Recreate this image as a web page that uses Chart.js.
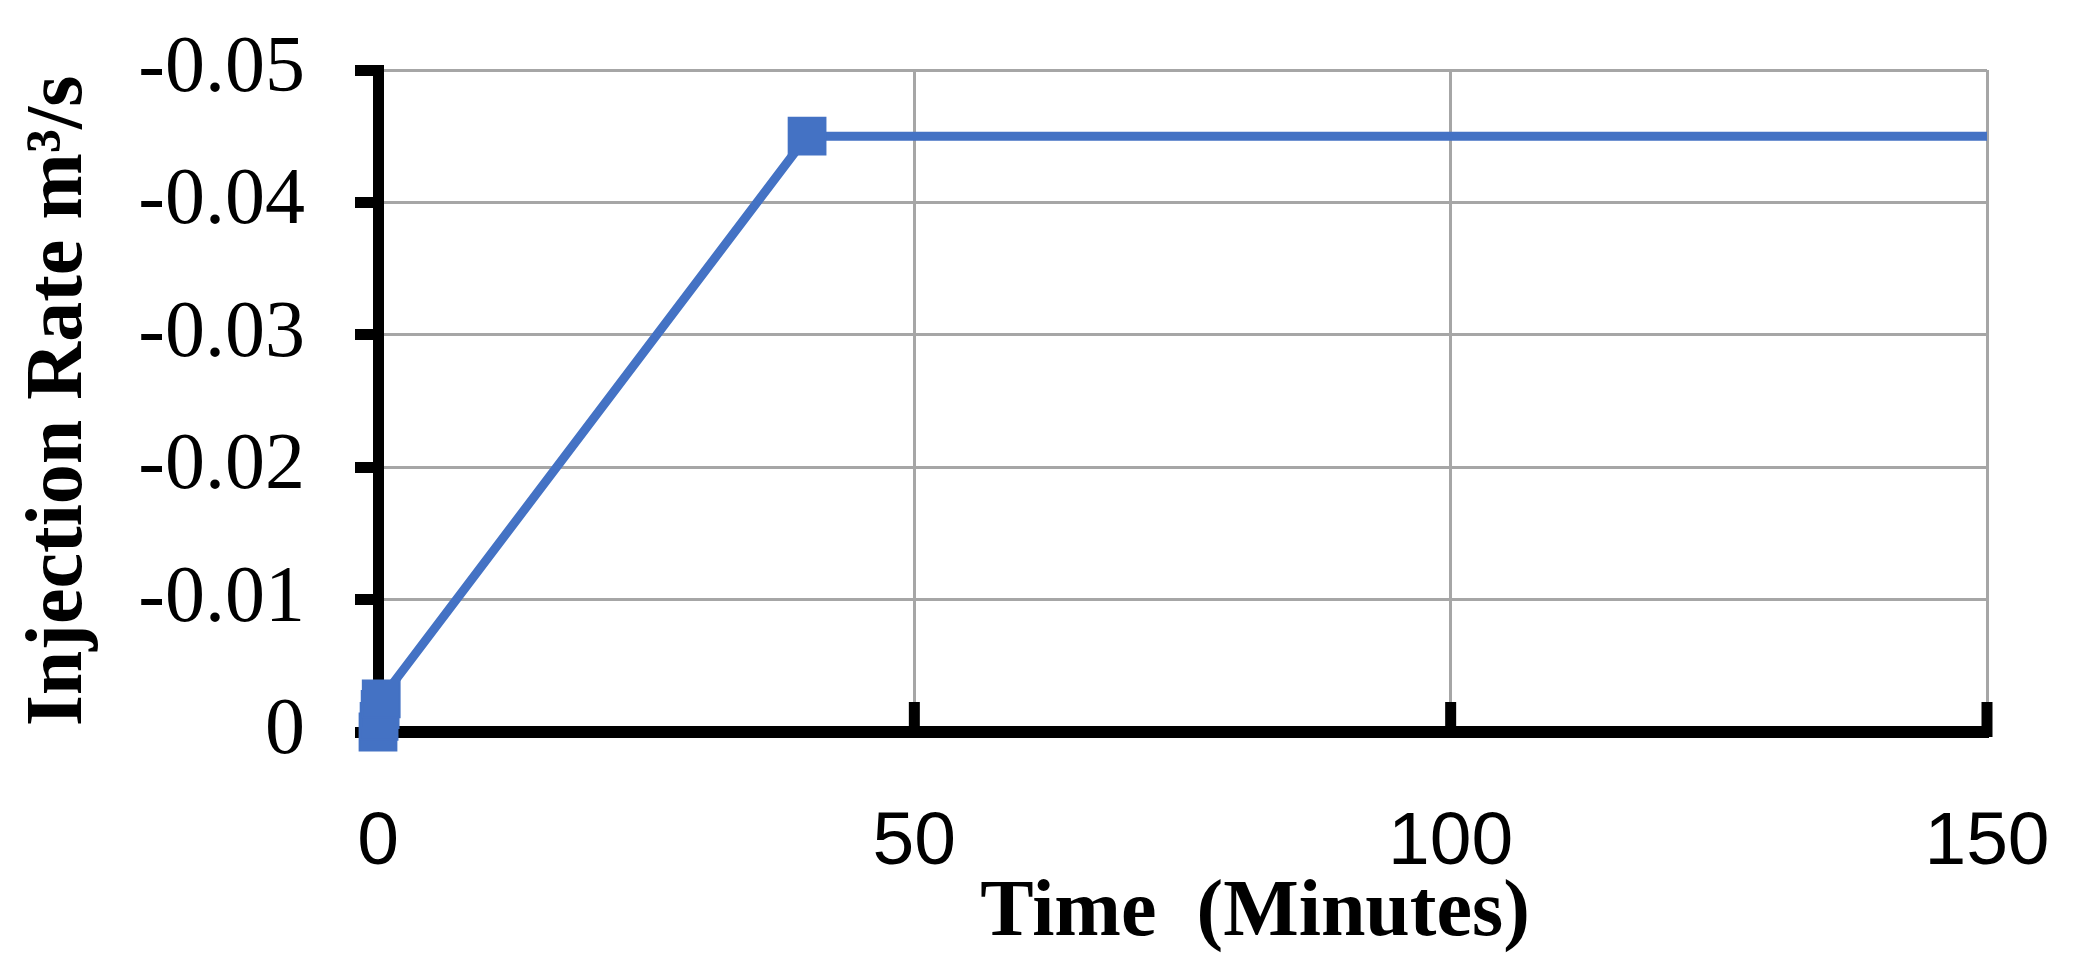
<!DOCTYPE html>
<html>
<head>
  <title>Injection Rate</title>
  <style>
      body {
          margin: 0;
          padding: 0;
          background-color: #ffffff;
      }
      canvas {
          display: block;
      }
  </style>
</head>
<body>
  <canvas id="rateChart" width="2077" height="979"></canvas>
  <script src="https://cdn.jsdelivr.net/npm/chart.js"></script>
  <script>
      // data
      const timeMinutes = [0, 0.1, 0.2, 0.3, 40, 150];
      const injectionRate = [0, -0.0008, -0.0017, -0.0025, -0.045, -0.045];
      const xTicks = [0, 50, 100, 150];
      const yTicks = [-0.05, -0.04, -0.03, -0.02, -0.01, 0];

      const blue = '#4472C4';
      const gridGray = '#a6a6a6';

      // x axis ticks point up into the plot, so draw them here
      const innerTicks = {
          id: 'innerTicks',
          beforeDatasetsDraw(chart) {
              const ctx = chart.ctx;
              const x = chart.scales.x;
              const area = chart.chartArea;
              ctx.save();
              ctx.strokeStyle = '#000';
              ctx.lineWidth = 11;
              xTicks.forEach(v => {
                  const px = x.getPixelForValue(v);
                  ctx.beginPath();
                  ctx.moveTo(px, area.bottom + 5);
                  ctx.lineTo(px, area.bottom - 30);
                  ctx.stroke();
              });
              ctx.restore();
          },
          afterDraw(chart) {
              const ctx = chart.ctx;
              const area = chart.chartArea;
              ctx.save();
              ctx.fillStyle = '#000';
              ctx.font = 'bold 80px "Liberation Serif"';
              ctx.textAlign = 'center';
              ctx.textBaseline = 'alphabetic';
              ctx.fillText('Time  (Minutes)', area.left + 877, area.bottom + 203);
              ctx.restore();
          }
      };

      const ctx = document.getElementById('rateChart').getContext('2d');
      const rateChart = new Chart(ctx, {
          type: 'line',
          data: {
              datasets: [{
                  data: timeMinutes.map((t, i) => ({ x: t, y: injectionRate[i] })),
                  borderColor: blue,
                  backgroundColor: blue,
                  borderWidth: 9,
                  pointStyle: 'rect',
                  pointRadius: timeMinutes.map((t, i) => i === timeMinutes.length - 1 ? 0 : 26),
                  pointBorderWidth: 2,
                  pointBackgroundColor: blue,
                  pointBorderColor: blue,
                  tension: 0,
                  clip: false
              }]
          },
          options: {
              responsive: false,
              animation: false,
              layout: {
                  padding: { left: 0, top: 70, right: 90, bottom: 0 }
              },
              plugins: {
                  legend: { display: false },
                  tooltip: { enabled: false }
              },
              scales: {
                  x: {
                      type: 'linear',
                      min: 0,
                      max: 150,
                      afterFit: s => { s.height = 247; s.paddingLeft = 0; s.paddingRight = 0; },
                      afterBuildTicks: s => { s.ticks = xTicks.map(v => ({ value: v })); },
                      grid: {
                          color: gridGray,
                          lineWidth: 3,
                          drawTicks: false
                      },
                      border: { display: true, color: '#000', width: 12 },
                      ticks: {
                          color: '#000',
                          padding: 66,
                          font: { family: '"Liberation Sans"', size: 75 }
                      }
                  },
                  y: {
                      type: 'linear',
                      min: -0.05,
                      max: 0,
                      reverse: true,
                      afterFit: s => { s.width = 378; s.paddingTop = 0; s.paddingBottom = 0; },
                      afterBuildTicks: s => { s.ticks = yTicks.map(v => ({ value: v })); },
                      grid: {
                          color: gridGray,
                          lineWidth: 3,
                          drawTicks: true,
                          tickLength: 23,
                          tickColor: '#000',
                          tickWidth: 11
                      },
                      border: { display: true, color: '#000', width: 11 },
                      ticks: {
                          color: '#000',
                          padding: 50,
                          font: { family: '"Liberation Serif"', size: 80 },
                          callback: v => (Math.abs(v) < 1e-9 ? '0' : v.toFixed(2))
                      },
                      title: {
                          display: true,
                          text: 'Injection Rate m\u00B3/s',
                          color: '#000',
                          padding: { top: 12, bottom: 0 },
                          font: { family: '"Liberation Serif"', size: 80, weight: 'bold', lineHeight: 1.2 }
                      }
                  }
              }
          },
          plugins: [innerTicks]
      });
  </script>
</body>
</html>
